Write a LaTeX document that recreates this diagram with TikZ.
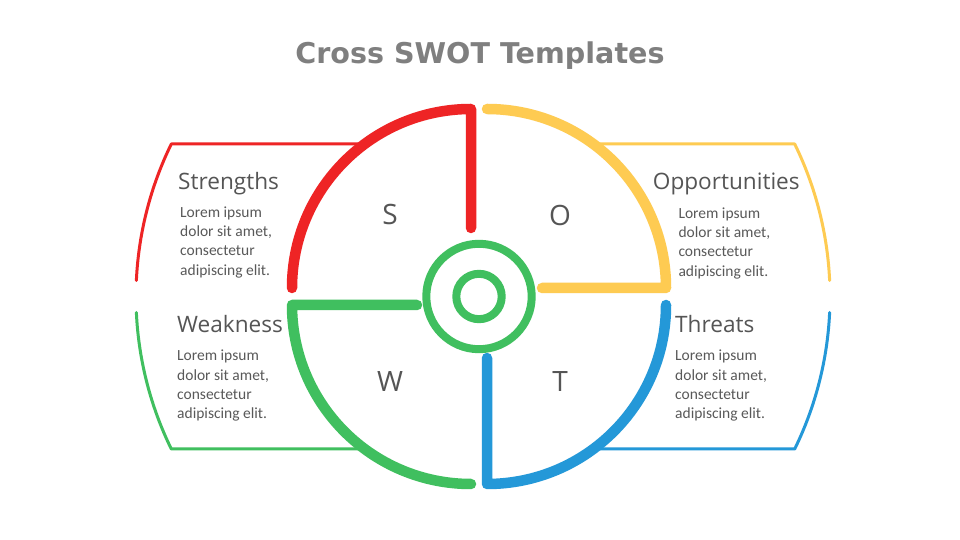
\documentclass[tikz,border=0pt]{standalone}
\usepackage{fontspec}
\setmainfont{Carlito}
\newfontfamily\headfont{Open Sans}
\newfontfamily\titlefont{DejaVu Sans}
\definecolor{redc}{HTML}{EE2425}
\definecolor{yelc}{HTML}{FECB52}
\definecolor{grnc}{HTML}{40BF5F}
\definecolor{bluc}{HTML}{2498D8}
\definecolor{headc}{HTML}{555555}
\definecolor{bodyc}{HTML}{595959}
\definecolor{titlec}{HTML}{7F7F7F}
\begin{document}
\begin{tikzpicture}[x=1pt,y=1pt,
  bigarc/.style={line width=10.5pt, line cap=round, line join=round},
  panel/.style={line width=3pt, line cap=round, line join=round},
  ringstyle/.style={draw=grnc, line width=8pt, circle, inner sep=0pt},
  heading/.style={font=\headfont\fontsize{22.6}{27}\selectfont, text=headc, inner sep=0pt, anchor=base west},
  bodytext/.style={font=\fontsize{15.5}{19.3}\selectfont, text=bodyc, inner sep=0pt, align=left, anchor=base west},
  letter/.style={font=\headfont\fontsize{28}{32}\selectfont, text=headc, inner sep=0pt}]
\useasboundingbox (0,0) rectangle (960,540);
\fill[white] (0,0) rectangle (960,540);

% title
\node[font=\titlefont\bfseries\fontsize{28.6}{33}\selectfont, text=titlec, inner sep=0pt, anchor=base] (title) at (480,476.5) {Cross SWOT Templates};

% thin panels
\draw[panel, redc] (364.7,396) -- (171.3,396) arc[start angle=153.93, end angle=177.36, radius=347];
\draw[panel, yelc] (593.3,396) -- (794.7,396) arc[start angle=26.07, end angle=2.64, radius=347];
\draw[panel, grnc] (364.7,91) -- (171.3,91) arc[start angle=206.07, end angle=182.64, radius=347];
\draw[panel, bluc] (593.3,91) -- (794.7,91) arc[start angle=-26.07, end angle=-2.64, radius=347];

% quadrant arcs
\draw[bigarc, redc] (471,312) -- (471,431) arc[start angle=90, end angle=180, radius=179];
\draw[bigarc, yelc] (487,431) arc[start angle=90, end angle=0, radius=179] -- (542,252);
\draw[bigarc, grnc] (417,235) -- (292,235) arc[start angle=180, end angle=270, radius=179];
\draw[bigarc, bluc] (487,182) -- (487,56) arc[start angle=270, end angle=360, radius=179];

% central rings
\node[ringstyle, minimum size=105.4pt] (outerring) at (479,243.5) {};
\node[ringstyle, minimum size=45.4pt] (innerring) at (479,243.5) {};

% letters
\node[letter] (ls) at (390,325) {S};
\node[letter] (lo) at (560,325) {O};
\node[letter] (lw) at (390,158) {W};
\node[letter] (lt) at (560,158) {T};

% headings and texts (body anchored at the baseline of its last line)
\node[heading] (hs) at (178,350) {Strengths};
\node[bodytext] (bs) at (180,264.8) {Lorem ipsum\\dolor sit amet,\\consectetur\\adipiscing elit.};
\node[heading] (ho) at (652.7,350.7) {Opportunities};
\node[bodytext] (bo) at (678.3,263.8) {Lorem ipsum\\dolor sit amet,\\consectetur\\adipiscing elit.};
\node[heading] (hw) at (177,207) {Weakness};
\node[bodytext] (bw) at (177,121.1) {Lorem ipsum\\dolor sit amet,\\consectetur\\adipiscing elit.};
\node[heading] (ht) at (675,207) {Threats};
\node[bodytext] (bt) at (675,121.1) {Lorem ipsum\\dolor sit amet,\\consectetur\\adipiscing elit.};
\end{tikzpicture}
\end{document}
